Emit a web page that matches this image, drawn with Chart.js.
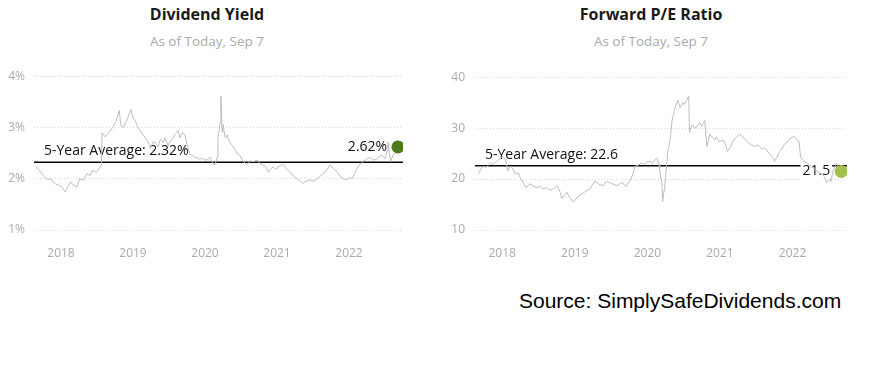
<!DOCTYPE html>
<html>
<head>
<meta charset="utf-8">
<script src="https://cdn.jsdelivr.net/npm/chart.js@4"></script>
<style>
  body { margin: 0; width: 879px; height: 385px; background: #fff; position: relative; overflow: hidden; font-family: 'Open Sans', sans-serif; }
  .title { position: absolute; top: 3px; width: 440px; text-align: center; font-weight: bold; font-size: 16px; line-height: 22px; color: #1a1a1a; }
  .sub { position: absolute; top: 31px; width: 440px; text-align: center; font-size: 13.5px; line-height: 20px; color: #aaa; }
  .box { position: absolute; top: 60px; height: 200px; }
  .source { position: absolute; left: 519px; top: 289px; font-family: Arial, 'Liberation Sans', sans-serif; font-size: 21px; line-height: 24px; color: #000; }
</style>
</head>
<body>
<div class="title" style="left:-13px">Dividend Yield</div>
<div class="sub" style="left:-13px">As of Today, Sep 7</div>
<div class="title" style="left:431px">Forward P/E Ratio</div>
<div class="sub" style="left:431px">As of Today, Sep 7</div>
<div class="box" style="left:0;width:440px"><canvas id="yieldChart" width="440" height="200"></canvas></div>
<div class="box" style="left:440px;width:439px"><canvas id="peChart" width="439" height="200"></canvas></div>
<div class="source">Source: SimplySafeDividends.com</div>
<script>
// dividend yield (%), dates as decimal years
const yieldYears = [
  2017.65, 2017.71, 2017.76, 2017.81, 2017.86, 2017.92, 2017.96, 2018.01, 2018.06, 2018.10,
  2018.13, 2018.17, 2018.22, 2018.26, 2018.31, 2018.36, 2018.40, 2018.44, 2018.49, 2018.53,
  2018.56, 2018.57, 2018.61, 2018.64, 2018.68, 2018.72, 2018.76, 2018.81, 2018.83, 2018.86,
  2018.90, 2018.93, 2018.97, 2019.00, 2019.03, 2019.07, 2019.10, 2019.14, 2019.17, 2019.21,
  2019.24, 2019.28, 2019.31, 2019.35, 2019.38, 2019.42, 2019.44, 2019.49, 2019.51, 2019.56,
  2019.58, 2019.63, 2019.65, 2019.69, 2019.72, 2019.76, 2019.79, 2019.83, 2019.86, 2019.90,
  2019.93, 2019.97, 2020.00, 2020.04, 2020.07, 2020.11, 2020.14, 2020.17, 2020.18, 2020.21,
  2020.22, 2020.24, 2020.25, 2020.28, 2020.31, 2020.32, 2020.35, 2020.38, 2020.40, 2020.42,
  2020.44, 2020.46, 2020.49, 2020.51, 2020.54, 2020.58, 2020.63, 2020.67, 2020.71, 2020.74,
  2020.76, 2020.81, 2020.85, 2020.88, 2020.92, 2020.94, 2020.99, 2021.01, 2021.06, 2021.08,
  2021.13, 2021.18, 2021.22, 2021.28, 2021.32, 2021.36, 2021.40, 2021.46, 2021.50, 2021.56,
  2021.60, 2021.64, 2021.68, 2021.74, 2021.78, 2021.81, 2021.85, 2021.88, 2021.92, 2021.97,
  2022.01, 2022.04, 2022.08, 2022.11, 2022.15, 2022.19, 2022.24, 2022.29, 2022.33, 2022.39,
  2022.43, 2022.46, 2022.50, 2022.53, 2022.54, 2022.56, 2022.58, 2022.61, 2022.64, 2022.68
];
const yieldValues = [
  2.23, 2.15, 2.05, 1.98, 2.00, 1.90, 1.88, 1.84, 1.74, 1.85,
  1.94, 1.88, 1.84, 2.00, 1.97, 2.10, 2.06, 2.17, 2.12, 2.20,
  2.27, 2.90, 2.82, 2.86, 2.93, 3.00, 3.10, 3.33, 3.05, 3.00,
  3.10, 3.20, 3.35, 3.20, 3.13, 3.00, 2.94, 2.85, 2.80, 2.72,
  2.60, 2.72, 2.70, 2.62, 2.77, 2.70, 2.80, 2.65, 2.72, 2.80,
  2.87, 2.94, 2.80, 2.90, 2.85, 2.62, 2.48, 2.45, 2.42, 2.40,
  2.38, 2.40, 2.36, 2.38, 2.42, 2.29, 2.27, 2.42, 2.80, 3.10,
  3.61, 2.90, 3.06, 2.80, 2.85, 2.77, 2.70, 2.65, 2.60, 2.56,
  2.50, 2.48, 2.45, 2.38, 2.33, 2.27, 2.35, 2.33, 2.36, 2.35,
  2.30, 2.27, 2.22, 2.13, 2.20, 2.23, 2.18, 2.23, 2.26, 2.29,
  2.20, 2.13, 2.06, 2.00, 1.96, 1.91, 1.95, 1.98, 1.95, 2.00,
  2.05, 2.10, 2.15, 2.27, 2.20, 2.17, 2.10, 2.04, 2.00, 1.98,
  2.02, 2.00, 2.10, 2.20, 2.28, 2.33, 2.38, 2.42, 2.36, 2.39,
  2.44, 2.46, 2.39, 2.55, 2.71, 2.50, 2.33, 2.46, 2.50, 2.62
];
const yieldAverage = 2.32;
const yieldTicks = [1, 2, 3, 4];

// forward P/E ratio, dates as decimal years
const peYears = [
  2017.67, 2017.71, 2017.74, 2017.78, 2017.84, 2017.88, 2017.93, 2017.97, 2018.00, 2018.04,
  2018.08, 2018.11, 2018.14, 2018.18, 2018.22, 2018.25, 2018.29, 2018.32, 2018.36, 2018.38,
  2018.44, 2018.48, 2018.52, 2018.56, 2018.62, 2018.66, 2018.71, 2018.76, 2018.80, 2018.82,
  2018.87, 2018.89, 2018.93, 2018.98, 2019.02, 2019.07, 2019.11, 2019.17, 2019.21, 2019.28,
  2019.32, 2019.35, 2019.39, 2019.43, 2019.48, 2019.54, 2019.58, 2019.62, 2019.66, 2019.70,
  2019.73, 2019.76, 2019.79, 2019.83, 2019.87, 2019.92, 2019.96, 2020.01, 2020.05, 2020.07,
  2020.10, 2020.13, 2020.16, 2020.17, 2020.18, 2020.20, 2020.21, 2020.23, 2020.24, 2020.25,
  2020.27, 2020.28, 2020.31, 2020.34, 2020.38, 2020.42, 2020.45, 2020.49, 2020.51, 2020.54,
  2020.57, 2020.58, 2020.62, 2020.65, 2020.68, 2020.72, 2020.75, 2020.79, 2020.82, 2020.86,
  2020.90, 2020.93, 2020.95, 2020.99, 2021.04, 2021.08, 2021.10, 2021.15, 2021.17, 2021.23,
  2021.27, 2021.31, 2021.35, 2021.38, 2021.43, 2021.48, 2021.52, 2021.57, 2021.61, 2021.64,
  2021.68, 2021.72, 2021.75, 2021.79, 2021.82, 2021.86, 2021.89, 2021.93, 2021.96, 2022.00,
  2022.02, 2022.07, 2022.09, 2022.11, 2022.13, 2022.16, 2022.20, 2022.23, 2022.26, 2022.30,
  2022.33, 2022.37, 2022.41, 2022.44, 2022.47, 2022.49, 2022.51, 2022.53, 2022.55, 2022.57,
  2022.60, 2022.63, 2022.67
];
const peValues = [
  21.0, 22.0, 22.5, 22.3, 23.2, 22.9, 23.5, 24.1, 24.4, 23.9,
  21.6, 22.5, 22.2, 21.0, 21.2, 20.2, 19.3, 18.3, 18.7, 19.1,
  18.5, 18.3, 18.7, 18.1, 18.3, 17.8, 18.1, 18.7, 17.4, 16.2,
  17.0, 17.4, 16.4, 15.5, 16.2, 16.8, 17.2, 17.8, 18.1, 19.7,
  19.1, 18.9, 18.7, 19.5, 19.3, 18.9, 18.7, 19.1, 19.3, 18.5,
  19.1, 19.7, 20.6, 22.5, 22.7, 23.1, 22.9, 23.5, 23.3, 23.1,
  23.7, 24.1, 22.9, 22.0, 20.6, 19.3, 15.5, 17.8, 19.1, 20.1,
  23.5, 25.4, 27.3, 31.5, 34.0, 35.5, 34.0, 35.0, 34.6, 35.5,
  36.3, 29.2, 30.7, 30.0, 30.2, 31.1, 30.4, 31.5, 26.4, 28.8,
  28.1, 27.7, 28.3, 27.3, 27.7, 26.7, 25.4, 26.3, 27.3, 28.3,
  28.8, 28.3, 27.7, 27.3, 26.7, 26.4, 26.7, 26.0, 26.1, 25.8,
  25.0, 24.4, 23.5, 24.4, 25.4, 26.1, 26.9, 27.3, 27.9, 28.3,
  28.3, 27.7, 27.3, 24.4, 23.9, 23.5, 23.1, 22.7, 22.5, 22.0,
  21.6, 21.2, 21.0, 20.4, 19.3, 19.7, 20.1, 19.5, 21.2, 22.0,
  23.1, 22.5, 21.5
];
const peAverage = 22.6;
const peTicks = [10, 20, 30, 40];

const X_MIN = 2017.625;
const X_MAX = 2022.75;

// draws the average caption and the current value caption under the series line
const captionPlugin = {
  id: 'captions',
  beforeDatasetDraw(chart, args, opts) {
    if (args.index !== 1) return;
    const ctx = chart.ctx;
    const xs = chart.scales.x;
    const ys = chart.scales.y;
    ctx.save();
    ctx.font = '14px "Open Sans"';
    ctx.textBaseline = 'middle';
    ctx.fillStyle = '#111';
    ctx.textAlign = 'left';
    ctx.fillText(opts.avgText, chart.chartArea.left + 10, ys.getPixelForValue(opts.avg) - 11);

    const px = xs.getPixelForValue(opts.lastX) - 11;
    const py = ys.getPixelForValue(opts.lastY);
    ctx.textAlign = 'right';
    if (opts.boxed) {
      const w = ctx.measureText(opts.lastText).width;
      ctx.fillStyle = '#fff';
      ctx.fillRect(px - w - 2, py - 9, w + 4, 18);
      ctx.fillStyle = '#111';
    }
    ctx.fillText(opts.lastText, px, py);
    ctx.restore();
  }
};

function renderValuationChart(id, cfg) {
  const ctx = document.getElementById(id).getContext('2d');
  const series = cfg.years.map((x, i) => ({ x: x, y: cfg.values[i] }));
  const last = series[series.length - 1];
  new Chart(ctx, {
    type: 'line',
    data: {
      datasets: [
        {
          data: [last],
          showLine: false,
          pointRadius: 6.5,
          pointBackgroundColor: cfg.dotColor,
          pointBorderWidth: 0
        },
        {
          data: series,
          borderColor: '#bdbdbd',
          borderWidth: 1,
          pointRadius: 0,
          tension: 0
        },
        {
          data: [{ x: X_MIN, y: cfg.average }, { x: X_MAX, y: cfg.average }],
          borderColor: '#000',
          borderWidth: 1.5,
          pointRadius: 0
        }
      ]
    },
    options: {
      responsive: false,
      animation: false,
      events: [],
      layout: { padding: { top: 13, right: cfg.padRight, left: 0, bottom: 0 } },
      plugins: {
        legend: { display: false },
        tooltip: { enabled: false },
        captions: {
          avg: cfg.average,
          avgText: cfg.avgText,
          lastX: last.x,
          lastY: last.y,
          lastText: cfg.lastText,
          boxed: cfg.boxed
        }
      },
      scales: {
        x: {
          type: 'linear',
          min: X_MIN,
          max: X_MAX,
          afterFit(scale) { scale.height = 30; },
          grid: { display: false },
          border: { display: false },
          ticks: {
            stepSize: 1,
            includeBounds: false,
            padding: 8,
            color: '#aaa',
            font: { family: 'Open Sans', size: 12 },
            callback: v => String(v)
          }
        },
        y: {
          min: cfg.ticks[0],
          max: cfg.ticks[cfg.ticks.length - 1],
          afterFit(scale) { scale.width = cfg.axisWidth; },
          grid: { color: '#d8d8d8', drawTicks: false },
          border: { display: false, dash: [1, 2] },
          ticks: {
            stepSize: cfg.ticks[1] - cfg.ticks[0],
            padding: cfg.tickPad,
            color: '#aaa',
            font: { family: 'Open Sans', size: 12 },
            callback: v => v + cfg.suffix
          }
        }
      }
    },
    plugins: [captionPlugin]
  });
}

renderValuationChart('yieldChart', {
  years: yieldYears,
  values: yieldValues,
  average: yieldAverage,
  ticks: yieldTicks,
  suffix: '%',
  avgText: '5-Year Average: ' + yieldAverage.toFixed(2) + '%',
  lastText: yieldValues[yieldValues.length - 1].toFixed(2) + '%',
  dotColor: '#4d7b1c',
  boxed: false,
  axisWidth: 34,
  tickPad: 9,
  padRight: 37
});

renderValuationChart('peChart', {
  years: peYears,
  values: peValues,
  average: peAverage,
  ticks: peTicks,
  suffix: '',
  avgText: '5-Year Average: ' + peAverage.toFixed(1),
  lastText: peValues[peValues.length - 1].toFixed(1),
  dotColor: '#a2c04a',
  boxed: true,
  axisWidth: 35,
  tickPad: 10,
  padRight: 32
});
</script>
</body>
</html>
